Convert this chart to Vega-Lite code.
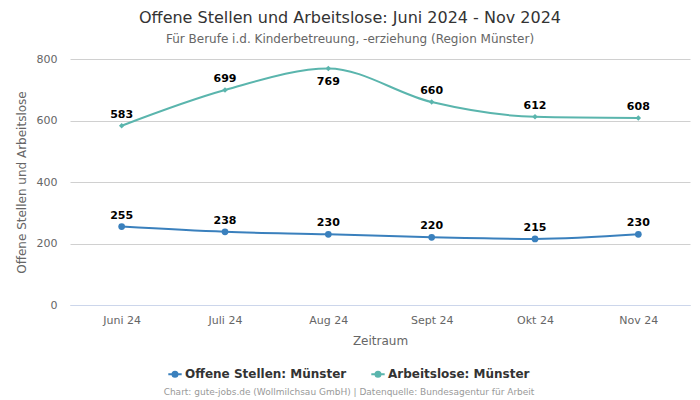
{
  "$schema": "https://vega.github.io/schema/vega-lite/v6.json",
  "autosize": {"type": "none"},
  "width": 620,
  "height": 246,
  "padding": {"left": 70, "top": 59, "right": 10, "bottom": 95},
  "background": "white",
  "config": {
    "font": "DejaVu Sans",
    "view": {"stroke": null}
  },
  "title": {
    "text": "Offene Stellen und Arbeitslose: Juni 2024 - Nov 2024",
    "subtitle": "Für Berufe i.d. Kinderbetreuung, -erziehung (Region Münster)",
    "anchor": "middle",
    "dx": -30,
    "fontSize": 16,
    "fontWeight": "normal",
    "color": "#333333",
    "subtitleFontSize": 12,
    "subtitleColor": "#666666",
    "subtitlePadding": 8,
    "offset": 8
  },
  "data": {
    "values": [
      {"Monat": "Juni 24", "Reihe": "Offene Stellen: Münster", "Wert": 255},
      {"Monat": "Juli 24", "Reihe": "Offene Stellen: Münster", "Wert": 238},
      {"Monat": "Aug 24", "Reihe": "Offene Stellen: Münster", "Wert": 230},
      {"Monat": "Sept 24", "Reihe": "Offene Stellen: Münster", "Wert": 220},
      {"Monat": "Okt 24", "Reihe": "Offene Stellen: Münster", "Wert": 215},
      {"Monat": "Nov 24", "Reihe": "Offene Stellen: Münster", "Wert": 230},
      {"Monat": "Juni 24", "Reihe": "Arbeitslose: Münster", "Wert": 583},
      {"Monat": "Juli 24", "Reihe": "Arbeitslose: Münster", "Wert": 699},
      {"Monat": "Aug 24", "Reihe": "Arbeitslose: Münster", "Wert": 769},
      {"Monat": "Sept 24", "Reihe": "Arbeitslose: Münster", "Wert": 660},
      {"Monat": "Okt 24", "Reihe": "Arbeitslose: Münster", "Wert": 612},
      {"Monat": "Nov 24", "Reihe": "Arbeitslose: Münster", "Wert": 608}
    ]
  },
  "encoding": {
    "x": {
      "field": "Monat",
      "type": "ordinal",
      "sort": ["Juni 24", "Juli 24", "Aug 24", "Sept 24", "Okt 24", "Nov 24"],
      "scale": {"type": "point", "padding": 0.5},
      "axis": {
        "title": "Zeitraum",
        "titleFontSize": 12,
        "titleFontWeight": "normal",
        "titleColor": "#666666",
        "titlePadding": 10,
        "labelAngle": 0,
        "labelFontSize": 11,
        "labelColor": "#666666",
        "labelPadding": 9,
        "domainColor": "#ccd6eb",
        "ticks": false,
        "grid": false
      }
    },
    "y": {
      "field": "Wert",
      "type": "quantitative",
      "scale": {"domain": [0, 800]},
      "axis": {
        "title": "Offene Stellen und Arbeitslose",
        "titleFontSize": 12,
        "titleFontWeight": "normal",
        "titleColor": "#666666",
        "titlePadding": 8,
        "values": [0, 200, 400, 600, 800],
        "labelFontSize": 11,
        "labelColor": "#666666",
        "labelPadding": 13,
        "domain": false,
        "ticks": false,
        "gridColor": "#d0d0d0"
      }
    },
    "color": {
      "field": "Reihe",
      "type": "nominal",
      "scale": {
        "domain": ["Offene Stellen: Münster", "Arbeitslose: Münster"],
        "range": ["#3a80bd", "#5ab5ad"]
      },
      "legend": {
        "title": "Chart: gute-jobs.de (Wollmilchsau GmbH) | Datenquelle: Bundesagentur für Arbeit",
        "titleOrient": "bottom",
        "titleAnchor": "middle",
        "titleFontSize": 9,
        "titleFontWeight": "normal",
        "titleColor": "#999999",
        "titlePadding": 7,
        "titleLimit": 600,
        "orient": "none",
        "legendX": 94,
        "legendY": 309,
        "direction": "horizontal",
        "labelFontSize": 12,
        "labelFontWeight": "bold",
        "labelColor": "#333333",
        "labelLimit": 300,
        "columnPadding": 20,
        "symbolType": "M-1.6,0L1.6,0M-0.6,0A0.6,0.6 0 1,1 0.6,0A0.6,0.6 0 1,1 -0.6,0",
        "symbolStrokeWidth": 2,
        "symbolSize": 70
      }
    }
  },
  "layer": [
    {
      "mark": {"type": "line", "interpolate": "monotone", "strokeWidth": 2}
    },
    {
      "transform": [{"filter": "datum.Reihe == 'Offene Stellen: Münster'"}],
      "mark": {"type": "point", "shape": "circle", "filled": true, "size": 45, "opacity": 1}
    },
    {
      "transform": [{"filter": "datum.Reihe == 'Arbeitslose: Münster'"}],
      "mark": {"type": "point", "shape": "diamond", "filled": true, "size": 30, "opacity": 1}
    },
    {
      "transform": [{"filter": "datum.Wert != 769"}],
      "mark": {"type": "text", "dy": -11, "fontSize": 11, "fontWeight": "bold", "color": "#000000", "baseline": "middle"},
      "encoding": {"text": {"field": "Wert", "type": "quantitative"}, "color": {"value": "#000000"}}
    },
    {
      "transform": [{"filter": "datum.Wert == 769"}],
      "mark": {"type": "text", "dy": 13, "fontSize": 11, "fontWeight": "bold", "color": "#000000", "baseline": "middle"},
      "encoding": {"text": {"field": "Wert", "type": "quantitative"}, "color": {"value": "#000000"}}
    }
  ]
}
